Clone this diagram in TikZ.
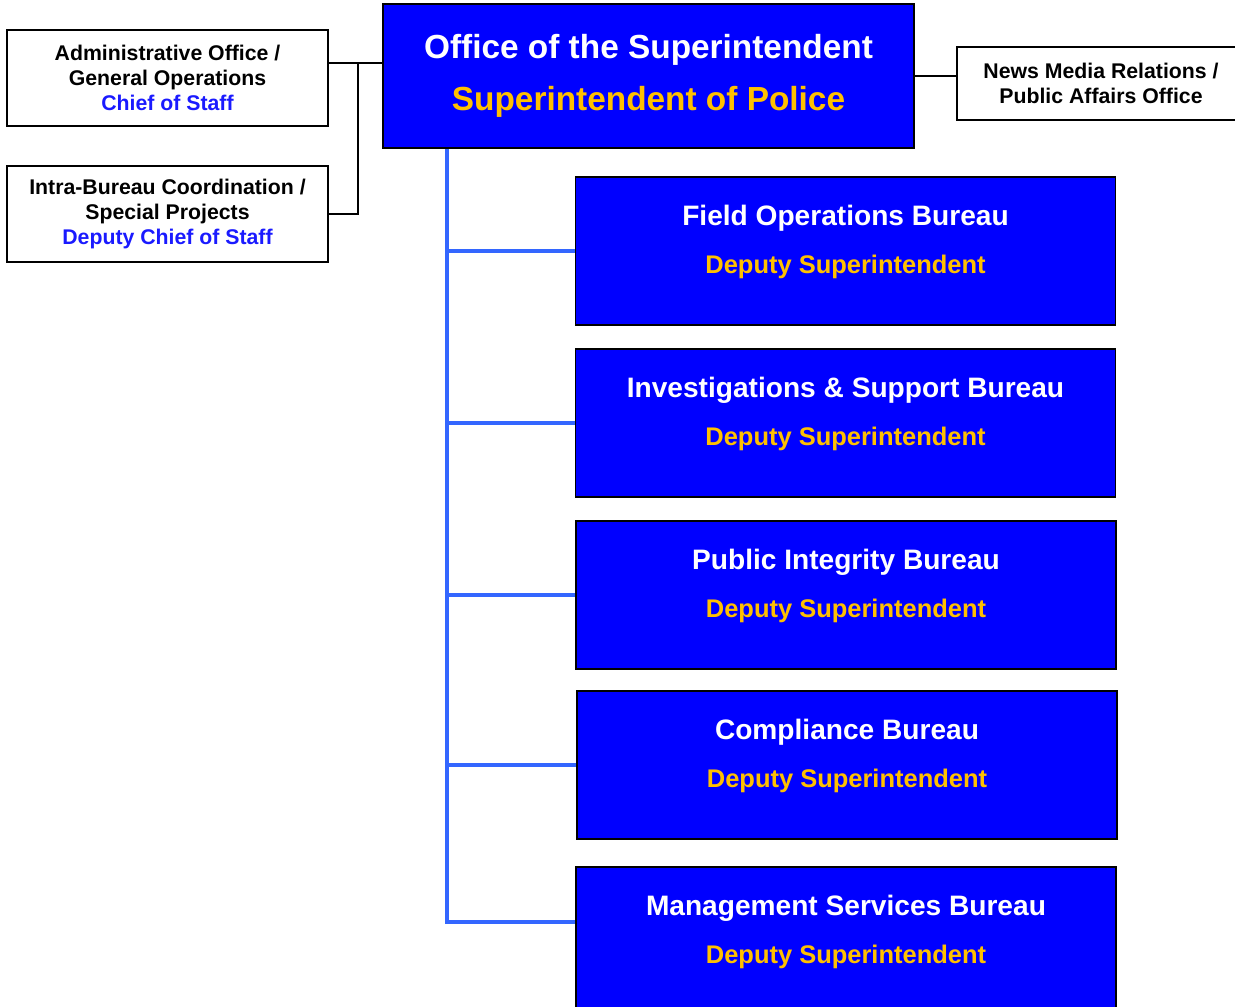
\documentclass[tikz,border=0pt]{standalone}
\usepackage{fontspec}
\setmainfont{Liberation Sans}
\usepackage{xcolor}
\usepackage{tikz}
\usetikzlibrary{calc}
\definecolor{boxblue}{RGB}{0,0,255}
\definecolor{gold}{RGB}{255,192,0}
\definecolor{linkblue}{RGB}{51,102,255}
\definecolor{staffblue}{RGB}{26,26,255}
\newcommand{\deputy}{{\fontsize{14.5}{27.2}\selectfont\color{gold}Deputy Superintendent}\rule[-13pt]{0pt}{0pt}}

\begin{document}
\begin{tikzpicture}[x=0.02cm,y=-0.02cm,
 chief/.style={draw,fill=boxblue,line width=1pt,minimum width=10.62cm,minimum height=2.88cm,align=center,text=white,font=\bfseries\fontsize{19}{30}\selectfont},
 staff/.style={draw,fill=white,line width=0.9pt,minimum width=6.42cm,minimum height=1.92cm,align=center,font=\bfseries\fontsize{12.1}{14.2}\selectfont},
 bureau/.style={draw,fill=boxblue,line width=0.9pt,minimum width=10.8cm,minimum height=2.96cm,align=center,text=white,font=\bfseries\fontsize{16}{27.2}\selectfont},
 tie/.style={line width=1pt},
 link/.style={draw=linkblue,line width=2.2pt}]
\clip (0,0) rectangle (1235,1007);
\node[chief] (sup) at (648.5,76) {Office of the Superintendent\\{\color{gold}Superintendent of Police}};
\node[staff] (admin) at (167.5,78) {Administrative Office /\\General Operations\\{\color{staffblue}Chief of Staff}};
\node[staff] (intra) at (167.5,214) {Intra-Bureau Coordination /\\Special Projects\\{\color{staffblue}Deputy Chief of Staff}};
\node[staff,minimum width=5.76cm,minimum height=1.46cm] (news) at (1101,83.5) {News Media Relations /\\Public Affairs Office};

\node[bureau] (fob) at (845.5,251) {Field Operations Bureau\\\deputy};
\node[bureau] (isb) at (845.5,423) {Investigations \& Support Bureau\\\deputy};
\node[bureau] (pib) at (846,595) {Public Integrity Bureau\\\deputy};
\node[bureau] (cb) at (847,765) {Compliance Bureau\\\deputy};
\node[bureau] (msb) at (846,941) {Management Services Bureau\\\deputy};

\coordinate (j) at (358,63);
\draw[tie] (admin.east |- j) -- (sup.west |- j);
\draw[tie] (j) |- (intra.east);
\draw[tie] (sup.east) -- (news.west |- sup.east);

\coordinate (t) at (447,922);
\draw[link] (sup.south -| t) -- (t) -- (msb.west |- t);
\foreach \b in {fob,isb,pib,cb} \draw[link] (t |- \b.west) -- (\b.west);
\end{tikzpicture}
\end{document}
